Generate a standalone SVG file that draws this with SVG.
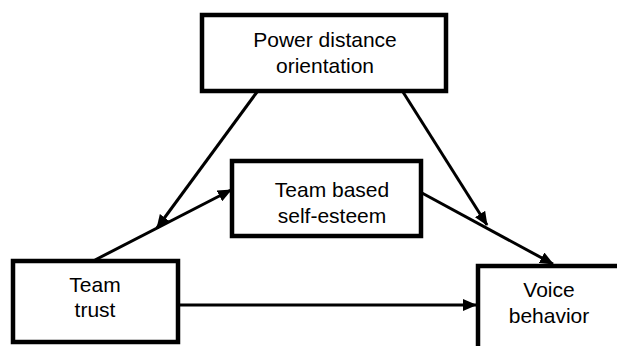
<svg xmlns="http://www.w3.org/2000/svg" width="617" height="346" viewBox="0 0 617 346">
<defs>
<style>
.box{fill:#fff;stroke:#000;stroke-width:4.5}
.lbl{font-family:"Liberation Sans",Arial,sans-serif;font-size:21px;fill:#000;text-anchor:middle}
.edge{stroke:#000;stroke-width:3;fill:none}
</style>
<marker id="ah" markerUnits="userSpaceOnUse" markerWidth="14" markerHeight="12" refX="13" refY="6" orient="auto">
<path d="M0,0 L14,6 L0,12 z" fill="#000"/>
</marker>
</defs>
<rect width="617" height="346" fill="#fff"/>
<g id="connectors">
<line class="edge" x1="95" y1="260" x2="231" y2="190" marker-end="url(#ah)"/>
<line class="edge" x1="257" y1="92" x2="157" y2="228" marker-end="url(#ah)"/>
<line class="edge" x1="403" y1="92" x2="487" y2="225" marker-end="url(#ah)"/>
<line class="edge" x1="422" y1="193" x2="553" y2="264" marker-end="url(#ah)"/>
<line class="edge" x1="178" y1="305" x2="476" y2="305" marker-end="url(#ah)"/>
</g>
<g id="power-distance">
<rect class="box" x="202" y="15" width="244" height="76"/>
<text class="lbl" x="325" y="47">Power distance</text>
<text class="lbl" x="325" y="73">orientation</text>
</g>
<g id="self-esteem">
<rect class="box" x="232" y="161" width="189" height="75"/>
<text class="lbl" x="332" y="197">Team based</text>
<text class="lbl" x="332" y="223">self-esteem</text>
</g>
<g id="team-trust">
<rect class="box" x="13" y="261" width="165" height="81"/>
<text class="lbl" x="95" y="292">Team</text>
<text class="lbl" x="95" y="317">trust</text>
</g>
<g id="voice-behavior">
<rect class="box" x="478" y="266" width="160" height="100"/>
<text class="lbl" x="549" y="297">Voice</text>
<text class="lbl" x="549" y="323">behavior</text>
</g>
</svg>
